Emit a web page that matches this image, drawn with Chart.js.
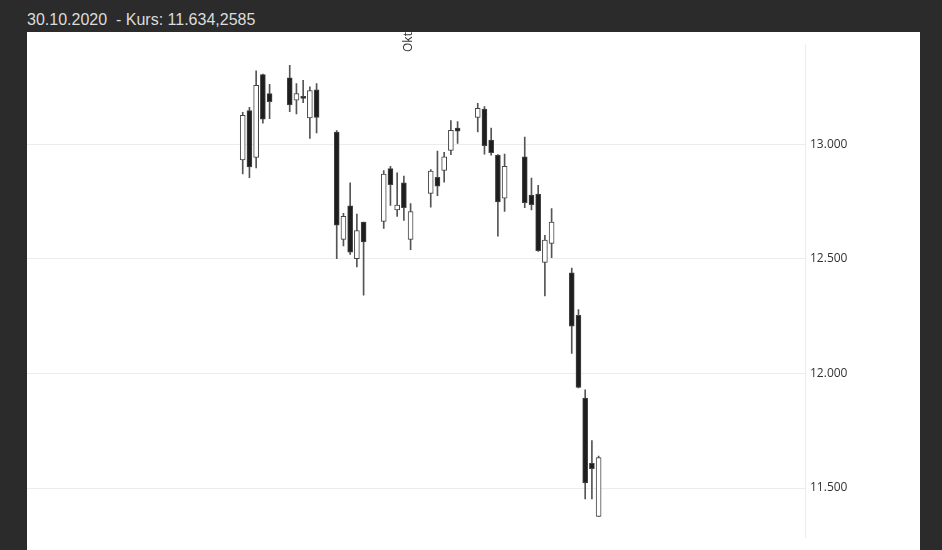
<!DOCTYPE html>
<html>
<head>
<meta charset="utf-8">
<script src="https://cdn.jsdelivr.net/npm/chart.js@4/dist/chart.umd.min.js"></script>
<style>
  body { margin: 0; background: #2b2b2b; width: 942px; height: 550px; overflow: hidden; font-family: "Liberation Sans", Arial, sans-serif; }
  #titel { position: absolute; left: 27px; top: 11px; color: #dcdcdc; font-size: 16px; }
  #box { position: absolute; left: 27px; top: 32px; width: 893px; height: 518px; background: #fff; }
</style>
</head>
<body>
<div id="titel">30.10.2020&nbsp; - Kurs: 11.634,2585</div>
<div id="box"><canvas id="kurs" width="893" height="518"></canvas></div>
<script>
// Tage relativ zum 1. Oktober 2020 (Mittag der Handelstage)
var tage = [-23.5, -22.5, -21.5, -20.5, -19.5, -16.5, -15.5, -14.5, -13.5, -12.5,
            -9.5, -8.5, -7.5, -6.5, -5.5, -2.5, -1.5, -0.5, 0.5, 1.5,
            4.5, 5.5, 6.5, 7.5, 8.5, 11.5, 12.5, 13.5, 14.5, 15.5,
            18.5, 19.5, 20.5, 21.5, 22.5, 25.5, 26.5, 27.5, 28.5, 29.5];
var eroeffnung = [12932, 13147, 12943, 13304, 13221, 13290, 13193, 13210, 13115, 13238,
                  13053, 12585, 12732, 12501, 12661, 12664, 12894, 12714, 12832, 12585,
                  12786, 12856, 12886, 12974, 13071, 13118, 13154, 13019, 12953, 12765,
                  12946, 12779, 12783, 12485, 12568, 12439, 12254, 11893, 11608, 11376];
var hoch = [13140, 13161, 13321, 13307, 13262, 13345, 13265, 13279, 13251, 13265,
            13060, 12699, 12832, 12696, 12661, 12886, 12904, 12876, 12862, 12742,
            12890, 12971, 12965, 13104, 13099, 13179, 13165, 13071, 12955, 12957,
            13032, 12853, 12821, 12603, 12720, 12460, 12279, 11929, 11707, 11640];
var tief = [12871, 12855, 12897, 13092, 13112, 13143, 13133, 13182, 13026, 13050,
            12501, 12557, 12520, 12465, 12342, 12633, 12733, 12685, 12668, 12540,
            12726, 12776, 12835, 12955, 13004, 13054, 12957, 12953, 12599, 12707,
            12724, 12714, 12533, 12339, 12505, 12088, 11937, 11453, 11453, 11376];
var schluss = [13127, 12901, 13258, 13110, 13186, 13172, 13221, 13200, 13235, 13118,
               12647, 12686, 12529, 12624, 12574, 12870, 12824, 12735, 12724, 12707,
               12883, 12817, 12946, 13061, 13057, 13157, 12994, 12964, 12749, 12904,
               12745, 12737, 12536, 12582, 12661, 12207, 11939, 11522, 11585, 11633];
var yTicks = [11500, 12000, 12500, 13000];

var dochte = tage.map(function (t, i) { return { x: t, y: [tief[i], hoch[i]] }; });
var koerper = tage.map(function (t, i) {
    var a = Math.min(eroeffnung[i], schluss[i]), b = Math.max(eroeffnung[i], schluss[i]);
    if (b - a < 6) { b = a + 6; }
    return { x: t, y: [a, b] };
});
var fuellung = tage.map(function (t, i) { return schluss[i] >= eroeffnung[i] ? '#ffffff' : '#1e1e1e'; });

var oktLabel = {
    id: 'oktLabel',
    afterDraw: function (chart) {
        var ctx = chart.ctx;
        var x = chart.scales.x.getPixelForValue(0);
        ctx.save();
        ctx.translate(x + 14, 20);
        ctx.rotate(-Math.PI / 2);
        ctx.fillStyle = '#333';
        ctx.font = '12px "Open Sans"';
        ctx.textBaseline = 'bottom';
        ctx.fillText('Okt', 0, 0);
        ctx.restore();
    }
};

new Chart(document.getElementById('kurs'), {
    type: 'bar',
    data: {
        datasets: [{
            data: dochte,
            backgroundColor: '#555',
            barThickness: 1,
            grouped: false,
            order: 2
        }, {
            data: koerper,
            backgroundColor: fuellung,
            borderColor: '#444',
            borderWidth: 1,
            borderSkipped: false,
            barThickness: 5,
            grouped: false,
            order: 1
        }]
    },
    options: {
        responsive: false,
        animation: false,
        devicePixelRatio: 1,
        plugins: { legend: { display: false }, tooltip: { enabled: false } },
        layout: { padding: 0 },
        scales: {
            x: {
                type: 'linear',
                min: -26.66,
                max: 31.27,
                afterBuildTicks: function (s) { s.ticks = [{ value: 0 }]; },
                ticks: { display: false },
                grid: { color: '#ececec', drawTicks: false },
                border: { display: false }
            },
            y: {
                position: 'right',
                min: 11283,
                max: 13437,
                afterBuildTicks: function (s) { s.ticks = yTicks.map(function (v) { return { value: v }; }); },
                afterFit: function (s) { s.width = 115; },
                ticks: {
                    color: '#333',
                    font: { family: 'Open Sans', size: 12 },
                    padding: 5,
                    callback: function (v) { return v.toLocaleString('de-DE'); }
                },
                grid: { color: '#ececec', drawTicks: false },
                border: { color: '#ececec' }
            }
        }
    },
    plugins: [oktLabel]
});
</script>
</body>
</html>
